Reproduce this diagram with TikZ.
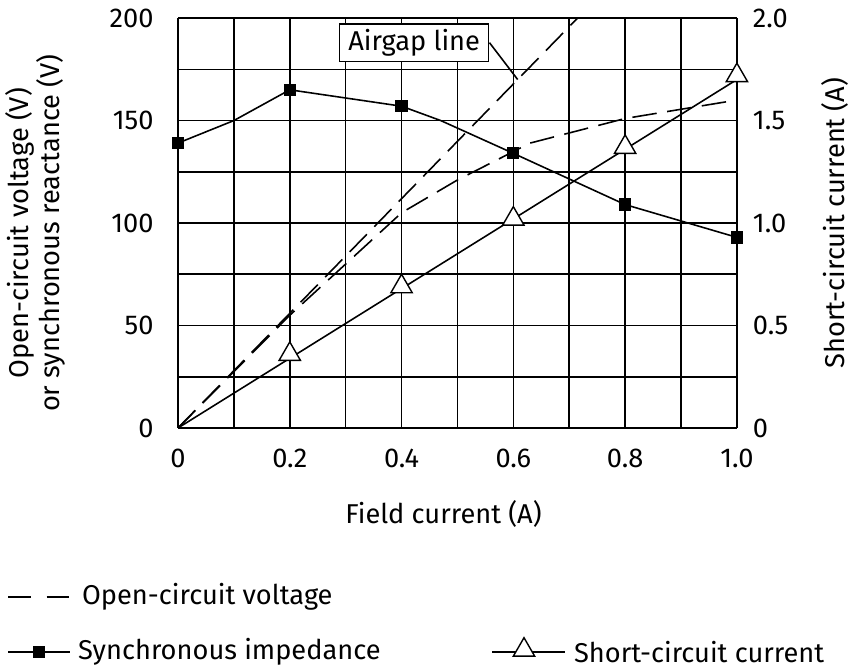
\documentclass[tikz,border=0pt]{standalone}
\usepackage{fontspec}
\setmainfont{Fira Sans}
\usetikzlibrary{calc}
\usetikzlibrary{shapes.geometric}
\tikzset{
  grid line/.style={black, line width=0.9pt},
  curve/.style={black, line width=0.9pt},
  sqmark/.style={fill=black, minimum size=7pt, inner sep=0pt, draw=none},
  trimark/.style={draw=black, fill=white, line width=0.8pt, regular polygon, regular polygon sides=3, minimum size=14pt, inner sep=0pt},
  lbl/.style={font=\fontsize{15.5}{18}\selectfont, inner sep=1pt},
}
\begin{document}
\begin{tikzpicture}[x=0.02cm,y=0.02cm]
  \useasboundingbox (0,0) rectangle (857,671);
  % plot area: origin at (178,243), 559 px per A, 2.05 px per V
  \begin{scope}[shift={(178,243)}, x=11.18cm, y=0.041cm]
    \foreach \i in {0,...,10} \draw[grid line] (\i/10,0) -- (\i/10,200);
    \foreach \j in {0,25,...,200} \draw[grid line] (0,\j) -- (1,\j);
    % ticks
    \foreach \v in {0,50,100,150,200} \node[lbl, anchor=east] at (-0.04,\v) {\v};
    \foreach \v/\t in {0/0,50/0.5,100/1.0,150/1.5,200/2.0} \node[lbl, anchor=west] at (1.025,\v) {\t};
    \foreach \v in {0,0.2,0.4,0.6,0.8} \node[lbl, anchor=north] at (\v,-9) {\v};
    \node[lbl, anchor=north] at (1,-9) {1.0};
    \node[lbl] (xlab) at (0.475,-42) {Field current (A)};
    \node[lbl, rotate=90, align=center] (ylab) at (-0.255,95) {Open-circuit voltage (V)\\or synchronous reactance (V)};
    \node[lbl, rotate=90] (y2lab) at (1.175,100) {Short-circuit current (A)};
    % open-circuit voltage and airgap line
    \draw[curve, dash pattern=on 14pt off 6pt] (0,0) -- (0.2,55) -- (0.4,105) -- (0.5,121)
      -- (0.63,139) -- (0.8,151) -- (1,160);
    \draw[curve, dash pattern=on 14pt off 6pt] (0,0) -- coordinate[pos=0.85] (gap) (0.715,200);
    \node[lbl, draw, fill=white, line width=0.8pt, inner xsep=5pt, inner ysep=3pt] (air) at (0.4225,188) {Airgap line};
    \draw[curve] (air.east) -- (gap);
    % synchronous impedance
    \draw[curve] (0,139) -- (0.1,150) -- (0.2,165) -- (0.4,157) -- (0.47,150) -- (0.6,134) -- (0.8,109) -- (1,93);
    \foreach \x/\y [count=\n] in {0/139,0.2/165,0.4/157,0.6/134,0.8/109,1/93}
      \node[sqmark] (s\n) at (\x,\y) {};
    % short-circuit current
    \draw[curve] (0,0) -- (1,170);
    \foreach \x/\y [count=\n] in {0.2/35,0.4/68,0.6/101,0.8/136,1/171}
      \node[trimark] (t\n) at (\x,\y+1) {};
  \end{scope}
  % legend
  \coordinate (la) at (8,74); \coordinate (lb) at (70,74);
  \draw[curve, dash pattern=on 13pt off 9pt] (la) -- (lb);
  \node[lbl, anchor=west] (ltxt) at (80,74) {Open-circuit voltage};
  \coordinate (lc) at (8,19); \coordinate (ld) at (70,19);
  \draw[curve] (lc) -- (ld);
  \node[sqmark] (lsq) at (39,19) {};
  \node[lbl, anchor=west] (lstxt) at (76,19) {Synchronous impedance};
  \coordinate (le) at (492,19); \coordinate (lf) at (565,19);
  \draw[curve] (le) -- (lf);
  \node[trimark] (ltri) at (524,21) {};
  \node[lbl, anchor=west] (lttxt) at (572,19) {Short-circuit current};
\end{tikzpicture}
\end{document}
